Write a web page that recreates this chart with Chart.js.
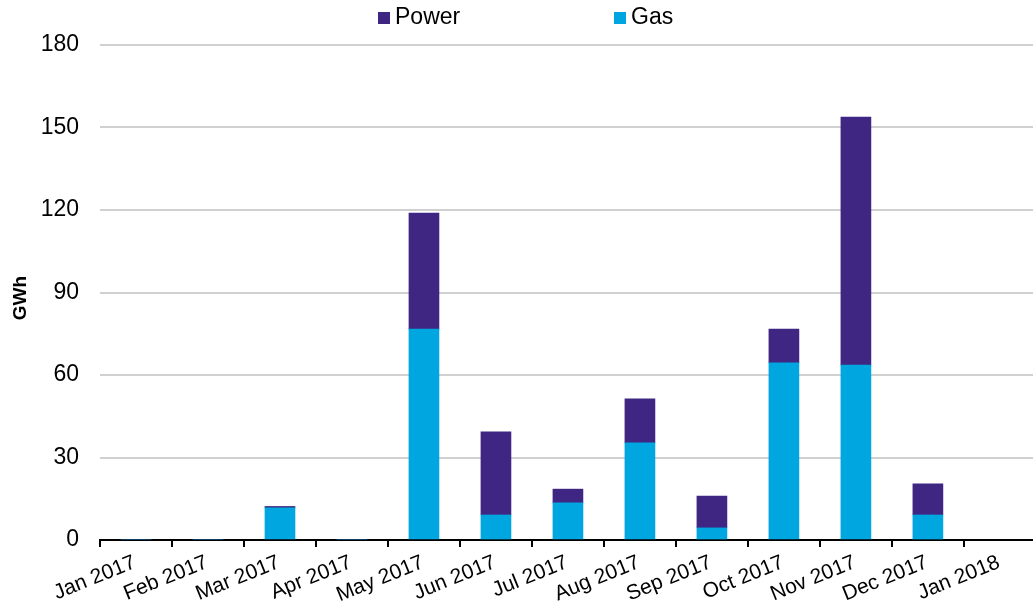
<!DOCTYPE html>
<html>
<head>
<meta charset="utf-8">
<script src="https://cdn.jsdelivr.net/npm/chart.js@4/dist/chart.umd.min.js"></script>
<style>
  body { margin: 0; background: #fff; }
</style>
</head>
<body>
<canvas id="gwhChart" width="1033" height="604"></canvas>
<script>
// tick labels sit on the month boundaries, bars sit between them
const monthLabels = ['Jan 2017', 'Feb 2017', 'Mar 2017', 'Apr 2017', 'May 2017', 'Jun 2017',
    'Jul 2017', 'Aug 2017', 'Sep 2017', 'Oct 2017', 'Nov 2017', 'Dec 2017', 'Jan 2018'];

// GWh per month, Jan..Dec 2017
const gasValues = [0, 0, 11.7, 0, 76.7, 9.1, 13.5, 35.3, 4.4, 64.4, 63.6, 9.1];
const powerValues = [0, 0, 0.5, 0, 42.2, 30.2, 5.0, 16.0, 11.6, 12.3, 90.2, 11.3];

const gasColor = '#00a6e0';
const powerColor = '#3e2682';
const fontFamily = 'Arial, "Liberation Sans", sans-serif';

// bar i spans month i -> month i+1, so put it in the middle
function toPoints(values) {
    return values.map((v, i) => ({ x: i + 0.5, y: v }));
}

// top legend (Power first, then Gas) and the rotated axis title
const chartLabels = {
    id: 'chartLabels',
    afterDraw(chart, args, opts) {
        const ctx = chart.ctx;
        const items = chart.data.datasets.slice().reverse();
        ctx.save();
        ctx.font = '23px ' + fontFamily;
        ctx.textBaseline = 'middle';
        items.forEach((ds, i) => {
            const x = opts.positions[i];
            ctx.fillStyle = ds.backgroundColor;
            ctx.fillRect(x, opts.y - 6, 12, 12);
            ctx.fillStyle = '#000';
            ctx.fillText(ds.label, x + 17, opts.y);
        });

        // y axis title
        ctx.translate(opts.titleX, opts.titleY);
        ctx.rotate(-Math.PI / 2);
        ctx.font = 'bold 19px ' + fontFamily;
        ctx.textAlign = 'center';
        ctx.fillText(opts.yTitle, 0, 0);
        ctx.restore();
    }
};

const ctx = document.getElementById('gwhChart').getContext('2d');
const chart = new Chart(ctx, {
    type: 'bar',
    data: {
        datasets: [{
            label: 'Gas',
            data: toPoints(gasValues),
            backgroundColor: gasColor,
            borderWidth: 0
        }, {
            label: 'Power',
            data: toPoints(powerValues),
            backgroundColor: powerColor,
            borderWidth: 0
        }]
    },
    plugins: [chartLabels],
    options: {
        responsive: false,
        animation: false,
        barThickness: 30,
        layout: { padding: { top: 45, left: 0, right: 0, bottom: 0 } },
        plugins: {
            legend: { display: false },
            tooltip: { enabled: false },
            chartLabels: { positions: [378, 614], y: 18, yTitle: 'GWh', titleX: 21, titleY: 298 }
        },
        scales: {
            x: {
                type: 'linear',
                stacked: true,
                offset: false,
                min: 0,
                max: 12.96,
                afterFit: (scale) => { scale.height = 64; },
                grid: {
                    offset: false,
                    drawOnChartArea: false,
                    drawTicks: true,
                    tickLength: 7,
                    color: '#000',
                    lineWidth: 2
                },
                border: { display: true, color: '#000', width: 2 },
                ticks: {
                    stepSize: 1,
                    includeBounds: false,
                    autoSkip: false,
                    minRotation: 22,
                    maxRotation: 22,
                    labelOffset: 35,
                    padding: 3,
                    color: '#000',
                    font: { family: fontFamily, size: 21 },
                    callback: (value) => monthLabels[value] || ''
                }
            },
            y: {
                stacked: true,
                min: 0,
                max: 180,
                afterFit: (scale) => { scale.width = 100; },
                grid: {
                    color: '#d0d0d0',
                    lineWidth: 2,
                    drawTicks: false
                },
                border: { display: false },
                ticks: {
                    stepSize: 30,
                    padding: 21,
                    color: '#000',
                    font: { family: fontFamily, size: 23 }
                }
            }
        }
    }
});
</script>
</body>
</html>
